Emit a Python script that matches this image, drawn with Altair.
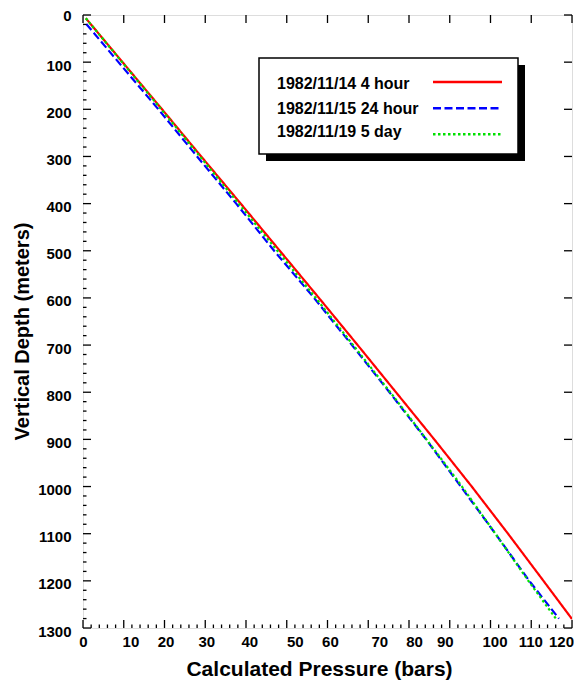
import altair as alt
import pandas as pd

# ---- data ----
series_names = ["1982/11/14 4 hour", "1982/11/15 24 hour", "1982/11/19 5 day"]
series_colors = ["#ff0000", "#0000ff", "#00e000"]
series_dash = [[1, 0], [8, 3.5], [2.5, 2.5]]

depth_red = [7, 100, 200, 300, 400, 500, 600, 700, 800, 900, 1000, 1100, 1200, 1281]
press_red = [0.7, 9.7, 19.4, 29.0, 38.7, 48.3, 57.9, 67.4, 76.8, 86.2, 95.4, 104.3, 113.0, 120.0]

depth_blue = [19, 100, 200, 300, 400, 500, 600, 700, 800, 900, 1000, 1100, 1200, 1280]
press_blue = [0.8, 8.7, 18.5, 28.0, 37.6, 46.9, 56.7, 66.0, 75.2, 84.2, 92.7, 101.2, 109.5, 116.8]

depth_green = [7, 100, 200, 300, 400, 500, 600, 700, 800, 900, 1000, 1100, 1200, 1282]
press_green = [0.7, 9.6, 19.2, 28.7, 38.2, 47.7, 57.1, 66.3, 75.4, 84.3, 93.0, 101.2, 109.3, 116.2]

x_ticks_major = list(range(0, 121, 10))
x_ticks_minor = [v for v in range(0, 121, 2) if v % 10]
y_ticks_major = list(range(0, 1301, 100))
y_ticks_minor = [v for v in range(0, 1301, 20) if v % 100]

x_title = "Calculated Pressure (bars)"
y_title = "Vertical Depth (meters)"

# ---- layout / style ----
W, H = 489, 613
FONT = "Liberation Sans"
MAJ, MIN = 8, 3.5

rows = []
for name, ds, ps in zip(series_names, [depth_red, depth_blue, depth_green],
                        [press_red, press_blue, press_green]):
    for d, p in zip(ds, ps):
        rows.append({"series": name, "depth": d, "pressure": p})
df = pd.DataFrame(rows)

xscale = alt.Scale(domain=[0, 120], nice=False, zero=False)
yscale = alt.Scale(domain=[0, 1300], reverse=True, nice=False)

# uneven label placement seen on the reference's x axis
x_shift = {10: 6.7, 20: 1, 30: 1, 40: 3.3, 50: 8, 60: 2.4, 70: 11, 80: 5,
           90: -5, 100: 4, 110: -1, 120: -11}
x_label_offset = {
    "condition": [{"test": f"datum.value == {k}", "value": v} for k, v in x_shift.items()],
    "value": 0,
}
y_label_offset = {"condition": [{"test": "datum.value == 0", "value": 0.5}], "value": 3}

x_axis = alt.Axis(
    values=x_ticks_major, ticks=False, domain=False, grid=False, format="d",
    labelFont=FONT, labelFontSize=15, labelFontWeight="bold", labelColor="black",
    labelPadding=6, labelOffset=x_label_offset, labelFlush=False,
    title=x_title, titleFont=FONT, titleFontSize=21, titleFontWeight="bold",
    titleColor="black", titleX=236, titleY=47, titleBaseline="alphabetic",
    titleAnchor="middle", titleAlign="center",
)
y_axis = alt.Axis(
    values=y_ticks_major, ticks=False, domain=False, grid=False, format="d",
    labelFont=FONT, labelFontSize=15, labelFontWeight="bold", labelColor="black",
    labelPadding=12, labelOffset=y_label_offset, labelFlush=False,
    title=y_title, titleFont=FONT, titleFontSize=20, titleFontWeight="bold",
    titleColor="black", titleX=-55, titleY=316, titleBaseline="alphabetic",
    titleAngle=270, titleAlign="center",
)

lines = alt.Chart(df).mark_line(strokeWidth=2.2, clip=True).encode(
    x=alt.X("pressure:Q", scale=xscale, axis=x_axis),
    y=alt.Y("depth:Q", scale=yscale, axis=y_axis),
    color=alt.Color("series:N", scale=alt.Scale(domain=series_names, range=series_colors), legend=None),
    strokeDash=alt.StrokeDash("series:N", scale=alt.Scale(domain=series_names, range=series_dash), legend=None),
    order="depth:Q",
)

def xticks(vals, y0, y1):
    return alt.Chart(pd.DataFrame({"v": vals})).mark_rule(color="black", strokeWidth=1.3).encode(
        x=alt.X("v:Q", scale=xscale, axis=x_axis), y=alt.value(y0), y2=alt.value(y1))

def yticks(vals, x0, x1):
    return alt.Chart(pd.DataFrame({"v": vals})).mark_rule(color="black", strokeWidth=1.3).encode(
        y=alt.Y("v:Q", scale=yscale, axis=y_axis), x=alt.value(x0), x2=alt.value(x1))

ticks = [
    xticks(x_ticks_major, H, H - MAJ),
    xticks(x_ticks_minor, H, H - MIN),
    xticks(x_ticks_major, 0, MAJ),
    yticks(y_ticks_major, 0, MAJ),
    yticks(y_ticks_minor, 0, MIN),
    yticks(y_ticks_major, W, W - MAJ),
]

# ---- legend box (drawn by hand, with drop shadow) ----
one = pd.DataFrame({"k": [0]})
LX0, LX1, LY0, LY1, SH = 176, 435, 43, 139, 7
legend_layers = [
    alt.Chart(one).mark_rect(color="black").encode(
        x=alt.value(LX0 + SH), x2=alt.value(LX1 + SH), y=alt.value(LY0 + SH), y2=alt.value(LY1 + SH)),
    alt.Chart(one).mark_rect(fill="white", stroke="black", strokeWidth=1.5).encode(
        x=alt.value(LX0), x2=alt.value(LX1), y=alt.value(LY0), y2=alt.value(LY1)),
]
text_y = [69, 93.5, 116.5]
line_y = [67, 93.3, 119.3]
for name, col, dash, ty, ly in zip(series_names, series_colors, series_dash, text_y, line_y):
    legend_layers.append(
        alt.Chart(one).mark_text(font=FONT, fontSize=16, fontWeight="bold", align="left",
                                 baseline="middle", color="black").encode(
            x=alt.value(194), y=alt.value(ty), text=alt.value(name)))
    legend_layers.append(
        alt.Chart(one).mark_rule(color=col, strokeWidth=2.5, strokeDash=dash).encode(
            x=alt.value(350), x2=alt.value(419), y=alt.value(ly)))

chart = alt.layer(lines, *ticks, *legend_layers).properties(
    width=W, height=H,
    padding={"left": 75, "top": 7, "right": 2, "bottom": 52},
    autosize="none",
).configure_view(stroke="black", strokeWidth=1.6).configure(background="white")

chart.save("out.html", embed_options={"renderer": "svg", "actions": False})
